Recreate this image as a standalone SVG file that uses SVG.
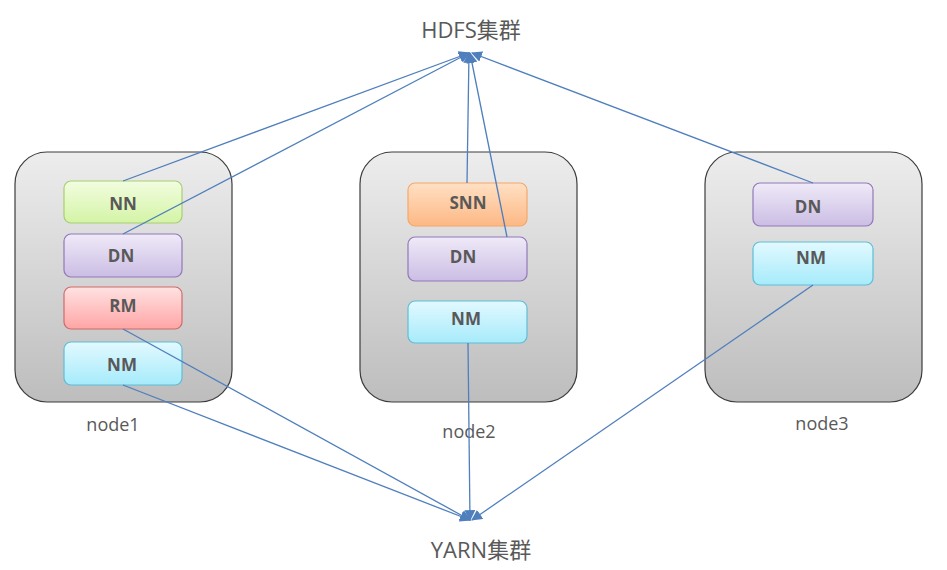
<svg xmlns="http://www.w3.org/2000/svg" width="947" height="570" viewBox="0 0 947 570">
<defs>
<linearGradient id="gOuter" x1="0" y1="0" x2="0" y2="1"><stop offset="0" stop-color="#ededed"/><stop offset="1" stop-color="#bdbdbd"/></linearGradient>
<linearGradient id="gGreen" x1="0" y1="0" x2="0" y2="1"><stop offset="0" stop-color="#f2fde0"/><stop offset="1" stop-color="#d4f4a6"/></linearGradient>
<linearGradient id="gPurple" x1="0" y1="0" x2="0" y2="1"><stop offset="0" stop-color="#efeaf8"/><stop offset="1" stop-color="#cbbde4"/></linearGradient>
<linearGradient id="gRed" x1="0" y1="0" x2="0" y2="1"><stop offset="0" stop-color="#ffe2e2"/><stop offset="1" stop-color="#ffa5a5"/></linearGradient>
<linearGradient id="gCyan" x1="0" y1="0" x2="0" y2="1"><stop offset="0" stop-color="#e2f9ff"/><stop offset="1" stop-color="#a6ebfb"/></linearGradient>
<linearGradient id="gOrange" x1="0" y1="0" x2="0" y2="1"><stop offset="0" stop-color="#ffe0c4"/><stop offset="1" stop-color="#fdb884"/></linearGradient>
<marker id="arr" viewBox="0 0 10 10" refX="9" refY="5" markerWidth="11" markerHeight="11" markerUnits="userSpaceOnUse" orient="auto"><path d="M0,0 L10,5 L0,10 z" fill="#4f7fbd"/></marker>
</defs>
<style>
.outer{fill:url(#gOuter);stroke:#3c3c3c;stroke-width:1.2}
.box{stroke-width:1.2}
.nn{fill:url(#gGreen);stroke:#a7cf72}
.dn{fill:url(#gPurple);stroke:#9278b8}
.rm{fill:url(#gRed);stroke:#d06a6a}
.nm{fill:url(#gCyan);stroke:#5fbdd6}
.snn{fill:url(#gOrange);stroke:#f5a86a}
.bt{font-family:"Open Sans","Liberation Sans",sans-serif;font-weight:bold;font-size:17px;fill:#595959;text-anchor:middle}
.lbl{font-family:"Open Sans","Noto Sans CJK SC",sans-serif;font-size:18px;fill:#595959;text-anchor:middle}
.ttl{font-family:"Open Sans","Noto Sans CJK SC",sans-serif;font-size:22px;fill:#595959;text-anchor:middle}
.conn line{stroke:#4f7fbd;stroke-width:1.3;marker-end:url(#arr)}
</style>
<g id="node1">
<rect class="outer" x="15" y="152" width="217" height="250" rx="32"/>
<g id="n1-nn"><rect class="box nn" x="64" y="181" width="118" height="42" rx="7"/><text class="bt" x="123" y="210">NN</text></g>
<g id="n1-dn"><rect class="box dn" x="64" y="234" width="118" height="43" rx="7"/><text class="bt" x="121" y="262">DN</text></g>
<g id="n1-rm"><rect class="box rm" x="64" y="287" width="118" height="42" rx="7"/><text class="bt" x="123" y="312">RM</text></g>
<g id="n1-nm"><rect class="box nm" x="64" y="342" width="118" height="43" rx="7"/><text class="bt" x="122" y="371">NM</text></g>
<text class="lbl" x="113" y="431">node1</text>
</g>
<g id="node2">
<rect class="outer" x="360" y="152" width="217" height="250" rx="32"/>
<g id="n2-snn"><rect class="box snn" x="408" y="183" width="119" height="43" rx="7"/><text class="bt" x="468" y="209">SNN</text></g>
<g id="n2-dn"><rect class="box dn" x="408" y="237" width="119" height="44" rx="7"/><text class="bt" x="463" y="263">DN</text></g>
<g id="n2-nm"><rect class="box nm" x="408" y="301" width="119" height="42" rx="7"/><text class="bt" x="466" y="325">NM</text></g>
<text class="lbl" x="469" y="438">node2</text>
</g>
<g id="node3">
<rect class="outer" x="705" y="152" width="217" height="250" rx="32"/>
<g id="n3-dn"><rect class="box dn" x="753" y="183" width="120" height="43" rx="7"/><text class="bt" x="808" y="213">DN</text></g>
<g id="n3-nm"><rect class="box nm" x="753" y="242" width="120" height="43" rx="7"/><text class="bt" x="811" y="264">NM</text></g>
<text class="lbl" x="822" y="430">node3</text>
</g>
<g id="hdfs"><text class="ttl" x="471" y="38">HDFS集群</text></g>
<g id="yarn"><text class="ttl" x="481" y="558">YARN集群</text></g>
<g id="connectors" class="conn">
<line x1="123" y1="181" x2="469" y2="53"/>
<line x1="123" y1="234" x2="469" y2="53"/>
<line x1="467" y1="183" x2="469" y2="53"/>
<line x1="507" y1="237" x2="470" y2="53"/>
<line x1="813" y1="183" x2="472" y2="53"/>
<line x1="123" y1="329" x2="470" y2="520"/>
<line x1="123" y1="385" x2="470" y2="520"/>
<line x1="468" y1="343" x2="470" y2="520"/>
<line x1="813" y1="285" x2="472" y2="520"/>
</g>
</svg>
